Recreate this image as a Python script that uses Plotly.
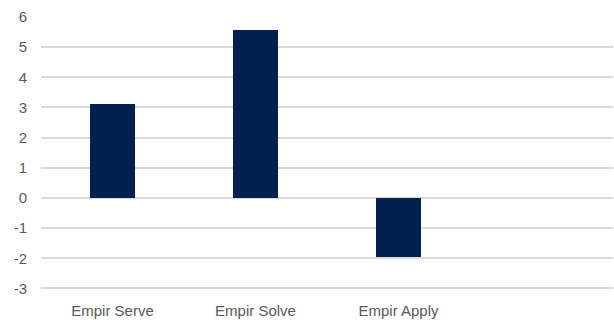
import plotly.graph_objects as go

categories = ["Empir Serve", "Empir Solve", "Empir Apply"]
values = [3.1, 5.58, -1.96]
y_ticks = [-3, -2, -1, 0, 1, 2, 3, 4, 5, 6]

fig = go.Figure(
    go.Bar(
        x=categories,
        y=values,
        width=0.31,
        marker=dict(color="#002050", line=dict(width=0)),
    )
)

fig.update_layout(
    width=614,
    height=320,
    margin=dict(l=41, r=1, t=15.6, b=27.5),
    paper_bgcolor="white",
    plot_bgcolor="white",
    showlegend=False,
    font=dict(family="Liberation Sans, Arial, sans-serif", size=15, color="#595959"),
    bargap=0,
)

fig.update_xaxes(
    type="category",
    range=[-0.5, 3.5],
    showgrid=False,
    showline=False,
    ticks="",
    ticklabelstandoff=10,
    tickfont=dict(size=15),
)

fig.update_yaxes(
    range=[-3.05, 6.03],
    tickvals=y_ticks,
    ticktext=[str(v) for v in y_ticks],
    showgrid=True,
    gridcolor="#d9d9d9",
    gridwidth=1.5,
    zeroline=False,
    showline=False,
    ticks="",
    ticklabelstandoff=13,
    tickfont=dict(size=15),
)

fig.write_html("out.html")
